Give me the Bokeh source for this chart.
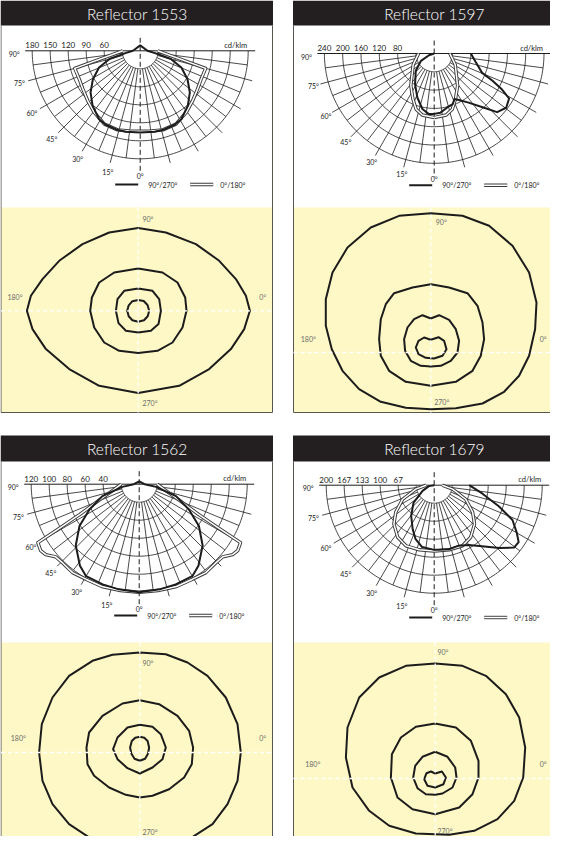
import numpy as np
from bokeh.plotting import figure
from bokeh.models import Range1d
from bokeh.embed import file_html
from bokeh.resources import INLINE
from bokeh.core.properties import value

# ------------------------------------------------------------------ data
titles = ["Reflector 1553", "Reflector 1597", "Reflector 1562", "Reflector 1679"]

# intensity rings (cd/klm); the innermost ring carries no label
rings_1553 = [30, 60, 90, 120, 150, 180]
rings_1597 = [40, 80, 120, 160, 200, 240]
rings_1562 = [20, 40, 60, 80, 100, 120]
rings_1679 = [33.3, 66.7, 100, 133.3, 166.7, 200]
ring_labels_1553 = ["180", "150", "120", "90", "60"]
ring_labels_1597 = ["240", "200", "160", "120", "80"]
ring_labels_1562 = ["120", "100", "80", "60", "40"]
ring_labels_1679 = ["200", "167", "133", "100", "67"]

angle_ticks = [90, 75, 60, 45, 30, 15, 0]
unit_label = "cd/klm"
legend_labels = ["90°/270°", "0°/180°"]
iso_labels = ["90°", "270°", "180°", "0°"]

# luminous intensity curves: angle from nadir (deg) -> cd/klm
# Reflector 1553 (symmetric)
i1553_c90_ang = [0, 10, 17, 25, 31, 41, 50, 59, 68, 75, 81, 90]
i1553_c90_val = [136, 137, 137, 136, 133, 121, 108, 92, 74, 53, 25, 12]
i1553_c0_ang = [0, 8, 16, 26, 37, 46, 56, 65, 75, 90]
i1553_c0_val = [134, 135, 137, 136, 128, 121, 115, 112, 113, 29]
# Reflector 1597 (C90 right / C270 left differ)
i1597_c90_ang = [0, 6, 14, 20, 24, 28, 35, 42, 47, 53, 59, 62, 65, 68, 78, 90]
i1597_c90_val = [132, 130, 121, 118, 109, 115, 131, 158, 188, 197, 191, 168, 140, 113, 93, 80]
i1597_c270_ang = [0, 5, 12, 21, 32, 47, 61, 72, 90]
i1597_c270_val = [132, 133, 124, 103, 79, 55, 33, 12, 0]
i1597_c0_ang = [0, 11, 18, 25, 36, 47, 62, 76, 87, 90]
i1597_c0_val = [140, 137, 128, 110, 87, 66, 52, 40, 35, 34]
# Reflector 1562 (symmetric)
i1562_c90_ang = [0, 11, 20, 30, 36, 46, 55, 63, 72, 81, 90]
i1562_c90_val = [120, 119, 118.5, 118, 112, 98, 81, 62, 43, 19, 6]
i1562_c0_ang = [0, 10, 20, 29, 37, 44, 49, 53, 56, 60, 61, 63, 69, 77, 90]
i1562_c0_val = [120, 120, 121, 121, 123, 122, 123, 130, 132, 130, 102, 74, 46, 30, 20]
# Reflector 1679 (C90 right / C270 left differ)
i1679_c90_ang = [0, 4, 13, 22, 30, 38, 46, 52, 56, 60, 66, 72, 80, 90]
i1679_c90_val = [120, 120, 122, 121, 128, 144, 168, 188, 189, 177, 159, 126, 91, 65]
i1679_c270_ang = [0, 11, 19, 26, 37, 50, 64, 80, 90]
i1679_c270_val = [120, 117, 106, 91, 71, 50, 24, 10, 0]
i1679_c0_ang = [0, 13, 25, 35, 46, 55, 66, 78, 90]
i1679_c0_val = [122, 123, 124, 118, 104, 87, 64, 35, 15]

# isolux contours: points (x, y) relative to the luminaire
iso1553_1 = [(0, 82.7), (27.7, 78.3), (57.7, 66.7), (81, 50), (97.7, 31.7), (107.7, 15), (111.7, 0),
             (106, -18.3), (92.7, -38.3), (71, -58.3), (41, -75), (0, -82.3), (-39, -75), (-69, -58.3),
             (-92.3, -38.3), (-105.7, -18.3), (-111.3, 0), (-107.3, 15), (-95.7, 31.7), (-79, 50),
             (-55.7, 66.7), (-29, 78.3)]
iso1553_2 = [(0, 42.3), (24.3, 38.3), (39.3, 28.3), (47, 13.3), (48.3, 0), (44.3, -16.7), (34.3, -31.7),
             (19.3, -40), (0, -42.3), (-19, -40), (-34, -31.7), (-44, -16.7), (-48, 0), (-46.3, 13.3),
             (-39, 28.3), (-24, 38.3)]
iso1553_3 = [(0, 22.3), (14.3, 20), (21, 11.7), (22.7, 0), (20.3, -13.3), (12.7, -20), (0, -21.7),
             (-12.3, -20), (-19.7, -12.3), (-22.3, 0), (-20.7, 11.7), (-14, 20)]
iso1553_4 = [(0, 10.7), (5.5, 9.8), (9.3, 5.8), (11, 0), (9.5, -5.5), (5.8, -9.5), (0, -11),
             (-5.8, -9.5), (-9.5, -5.5), (-11, 0), (-9.5, 5.5), (-5.8, 9.6)]

iso1597_1 = [(0, 139.3), (31.7, 136.7), (58.3, 126.7), (81.7, 106.7), (98.3, 80), (105.7, 50),
             (104.3, 23.3), (98.3, -3.3), (88.3, -23.3), (73.3, -39.3), (51.7, -51), (25, -55.7),
             (0, -56.7), (-25, -55.3), (-50, -49.3), (-71.7, -36.7), (-88.3, -18.3), (-99, 3.3),
             (-105, 26.7), (-105, 53.3), (-98.3, 80), (-83.3, 105), (-60, 125), (-31.7, 136.7)]
iso1597_2 = [(0, 68.3), (18.3, 65), (36.7, 59.3), (46.7, 46.7), (51.7, 30), (53.3, 13.3), (50, -3.3),
             (41.7, -18.3), (25, -29.3), (0, -33.3), (-25, -29.3), (-41.7, -18.3), (-50, -3.3),
             (-51.7, 13.3), (-50, 33.3), (-45, 48.3), (-36.7, 59.3), (-18.3, 65)]
iso1597_3 = [(0, 34), (8.3, 37.3), (18.3, 32.7), (25, 23.3), (28.3, 11.7), (26.7, 0), (20, -8.3),
             (10, -13.3), (0, -14), (-10, -13.3), (-20, -8.3), (-25.7, 1.7), (-26.7, 13.3),
             (-23.3, 25), (-16.7, 33.3), (-8.3, 37.3)]
iso1597_4 = [(0, 12.7), (7.7, 15.3), (13.3, 11.7), (15.7, 3.3), (11.7, -3.3), (3.3, -6), (-5, -5.3),
             (-12.3, -1.7), (-15, 5), (-12.3, 11.7), (-6.7, 15)]

iso1562_1 = [(0, 100), (26, 98.3), (47.7, 90), (67.7, 76.7), (86, 55), (97.7, 28.3), (101, 0),
             (97.7, -28.3), (87.7, -51.7), (72.7, -71.7), (49.3, -86.7), (26, -92.3), (0, -93.7),
             (-25.7, -92.3), (-49, -86), (-70.7, -71.7), (-87.3, -51.7), (-97.3, -28.3), (-100.7, 0),
             (-98, 28.3), (-87.3, 55), (-70.7, 76.7), (-47.3, 91.7), (-27.3, 97.7)]
iso1562_2 = [(0, 52.3), (19.3, 48.3), (37.7, 36.7), (49.3, 21.7), (53.3, 5), (52, -11.7), (44.3, -25),
             (29.3, -36.7), (12.7, -43.3), (0, -45), (-14, -42.3), (-30.7, -35), (-45.7, -23.3),
             (-52.3, -11.7), (-53.3, 5), (-50.7, 20), (-37.3, 36.7), (-17.3, 49)]
iso1562_3 = [(0, 27.7), (12.7, 25.7), (21, 18.3), (26, 5), (22.7, -6.7), (12.7, -15), (0, -21),
             (-12.3, -15.7), (-22.3, -6.7), (-26.7, 3.3), (-22.3, 15), (-12.3, 25)]
iso1562_4 = [(0, 15.7), (4.5, 14.8), (7.8, 11.5), (9.3, 5), (8.3, -1), (5.3, -6.2), (0, -8.3),
             (-5.3, -6.2), (-8.5, -1), (-9.7, 5), (-8, 11.5), (-4.6, 14.8)]

iso1679_1 = [(0, 115), (27.3, 112.7), (50.7, 102.7), (70.7, 84.3), (84, 61), (90, 31), (88, 1),
             (79, -22.3), (62.3, -40.7), (39, -52.3), (14, -56.3), (0, -55.7), (-19.3, -55),
             (-46, -47.3), (-66, -32.3), (-82.7, -9), (-89.3, 21), (-87.7, 51), (-76, 81),
             (-56, 101), (-29.3, 112.7)]
iso1679_2 = [(0, 55), (20.7, 51), (35.7, 37.7), (43.3, 17.7), (43.3, 1), (37.3, -15.7), (24, -29),
             (0, -35.7), (-22.7, -30.7), (-37.7, -19), (-44.3, 1), (-43.3, 24.3), (-34.3, 41),
             (-19.3, 51.7)]
iso1679_3 = [(0, 26.7), (12.3, 21.7), (20, 11), (21.3, 1), (17.3, -9), (7.3, -15), (0, -16.3),
             (-9.3, -15.7), (-17.7, -9.7), (-22, 1), (-20, 12.7), (-12.7, 21.7)]
iso1679_4 = [(0, 5), (6.7, 7), (10.7, 1), (8.3, -5.7), (0, -9), (-7.7, -7.3), (-11, -0.7),
             (-8.7, 5.3), (-4.3, 7)]

# ------------------------------------------------------------------ styles
FONT = value("Lato")
TITLE_FONT = value("'Lato Light', Lato")
YELLOW = "#fef8c6"
HEAD = "#231f20"
INK = "#1c1c1c"

p = figure(width=550, height=836, x_range=Range1d(8, 558), y_range=Range1d(844, 8),
           output_backend="svg", toolbar_location=None, min_border=0,
           x_axis_location=None, y_axis_location=None)
p.grid.visible = False
p.outline_line_color = None
p.background_fill_color = "white"


def texts(xs, ys, ss, size, color=INK, align="center", baseline="middle", font=FONT):
    p.text(x=list(xs), y=list(ys), text=list(ss), text_font=font,
           text_font_size=value(f"{size}px"), text_color=color,
           text_align=align, text_baseline=baseline)


def frame(title, x0, x1, hy0, hy1, yy, yb):
    p.quad(left=[x0], right=[x1], top=[yy], bottom=[yb], fill_color=YELLOW, line_color=None)
    p.quad(left=[x0 - 0.5], right=[x1 + 0.5], top=[hy0], bottom=[hy1], fill_color=HEAD, line_color=None)
    p.line([x0, x0, x1, x1], [hy1, yb, yb, hy1], line_color="#57564f", line_width=1)
    texts([(x0 + x1) / 2 + 0.5], [(hy0 + hy1) / 2 + 0.5], [title], 15.5, color="white", font=TITLE_FONT)


def half(cx, cy, s, ang, val, side):
    a = np.radians(np.asarray(ang, float))
    v = np.asarray(val, float)
    return cx + side * s * v * np.sin(a), cy + s * v * np.cos(a)


def polar(cx, cy, ring_px, rings, labels, c_left, c_right, d_ang, d_val, leg_y, top=None):
    s = ring_px / (rings[1] - rings[0])
    n = len(rings)
    rout = n * ring_px
    th = np.radians(np.linspace(-90, 90, 121))
    p.multi_line([list(cx + k * ring_px * np.sin(th)) for k in range(1, n + 1)],
                 [list(cy + k * ring_px * np.cos(th)) for k in range(1, n + 1)],
                 line_color=INK, line_width=0.8)
    xs, ys = [], []
    for k in range(1, 12):
        a = np.radians(7.5 * k)
        r2 = rout + 8 if k % 2 == 0 else rout
        for sd in (-1, 1):
            xs.append([cx + sd * ring_px * np.sin(a), cx + sd * r2 * np.sin(a)])
            ys.append([cy + ring_px * np.cos(a), cy + r2 * np.cos(a)])
    p.multi_line(xs, ys, line_color=INK, line_width=0.8)
    p.line([cx - rout - 7, cx + rout + 7], [cy, cy], line_color=INK, line_width=1)
    p.line([cx, cx], [cy - 13, cy + rout + 14], line_color=INK, line_width=1, line_dash="5 3")
    # labels
    texts([cx - k * ring_px for k in range(n, 1, -1)], [cy - 5.5] * (n - 1), labels, 8)
    texts([cx + rout - 1], [cy - 5.5], [unit_label], 7.5, align="right")
    ax, ay = [], []
    for t in angle_ticks:
        a = np.radians(t)
        if t == 90:
            ax.append(cx - rout - 18); ay.append(cy + 3)
        else:
            ax.append(cx - 125 * np.sin(a)); ay.append(cy + 125 * np.cos(a))
    texts(ax, ay, [f"{t}°" for t in angle_ticks], 7)
    # 0/180 double curve
    for sd in (-1, 1):
        x, y = half(cx, cy, s, d_ang, d_val, sd)
        p.line(list(x), list(y), line_color="#3a3a3a", line_width=3.4, line_join="round")
        p.line(list(x), list(y), line_color="white", line_width=1.5, line_join="round")
    # 90/270 solid curve
    xl, yl = half(cx, cy, s, c_left[0], c_left[1], -1)
    xr, yr = half(cx, cy, s, c_right[0], c_right[1], 1)
    X = list(xl[::-1]) + list(xr)
    Y = list(yl[::-1]) + list(yr)
    if top is not None:
        X += [cx, X[0]]
        Y += [cy - s * top, Y[0]]
    p.line(X, Y, line_color=INK, line_width=2, line_join="round")
    # legend
    p.line([cx - 25, cx - 2], [leg_y, leg_y], line_color=INK, line_width=2)
    p.line([cx + 50, cx + 73], [leg_y, leg_y], line_color="#3a3a3a", line_width=3.4)
    p.line([cx + 50, cx + 73], [leg_y, leg_y], line_color="white", line_width=1.5)
    texts([cx + 8, cx + 80], [leg_y, leg_y], legend_labels, 7, align="left")


def iso(lx, ly, x0, x1, yy, yb, contours, lab):
    for c in contours:
        pts = c + [c[0]]
        p.line([lx + q[0] for q in pts], [ly - q[1] for q in pts], line_color=INK,
               line_width=2, line_join="round")
    p.line([x0, x1], [ly, ly], line_color="white", line_width=1.3, line_dash="4 3")
    p.line([lx, lx], [yy, yb], line_color="white", line_width=1.3, line_dash="4 3")
    texts([lx + d[0] for d in lab], [ly + d[1] for d in lab], iso_labels, 7, color="#6b6b6b", align="left")


# ------------------------------------------------------------------ panels
frame(titles[0], 8.5, 280, 8, 33, 215, 420)
frame(titles[1], 301, 582, 8, 33, 215, 420)
frame(titles[2], 8.5, 280, 443, 469, 650, 870)
frame(titles[3], 301, 582, 443, 469, 650, 870)

polar(147.7, 58.3, 18, rings_1553, ring_labels_1553,
      (i1553_c90_ang, i1553_c90_val), (i1553_c90_ang, i1553_c90_val),
      i1553_c0_ang, i1553_c0_val, 192, top=9)
polar(441.7, 61, 18.3, rings_1597, ring_labels_1597,
      (i1597_c270_ang, i1597_c270_val), (i1597_c90_ang, i1597_c90_val),
      i1597_c0_ang, i1597_c0_val, 192.7)
polar(146.7, 491.7, 18, rings_1562, ring_labels_1562,
      (i1562_c90_ang, i1562_c90_val), (i1562_c90_ang, i1562_c90_val),
      i1562_c0_ang, i1562_c0_val, 623, top=3)
polar(441.7, 492.7, 18, rings_1679, ring_labels_1679,
      (i1679_c270_ang, i1679_c270_val), (i1679_c90_ang, i1679_c90_val),
      i1679_c0_ang, i1679_c0_val, 625)

iso(145.7, 318.3, 8.5, 280, 215, 420, [iso1553_1, iso1553_2, iso1553_3, iso1553_4],
    [(4.3, -91.6), (4.3, 91.7), (-130.7, -14), (121, -14)])
iso(438.3, 360, 301, 582, 215, 420, [iso1597_1, iso1597_2, iso1597_3, iso1597_4],
    [(5, -130.7), (3.4, 49.3), (-130, -13.3), (109, -13.3)])
iso(147.3, 760, 8.5, 280, 650, 870, [iso1562_1, iso1562_2, iso1562_3, iso1562_4],
    [(2.7, -90), (2.7, 79.5), (-129, -15), (119.4, -15)])
iso(442.7, 786, 301, 582, 650, 870, [iso1679_1, iso1679_2, iso1679_3, iso1679_4],
    [(2.3, -127), (2.3, 52.5), (-130, -15), (104.5, -15)])

open("out.html", "w").write(file_html(p, INLINE))
